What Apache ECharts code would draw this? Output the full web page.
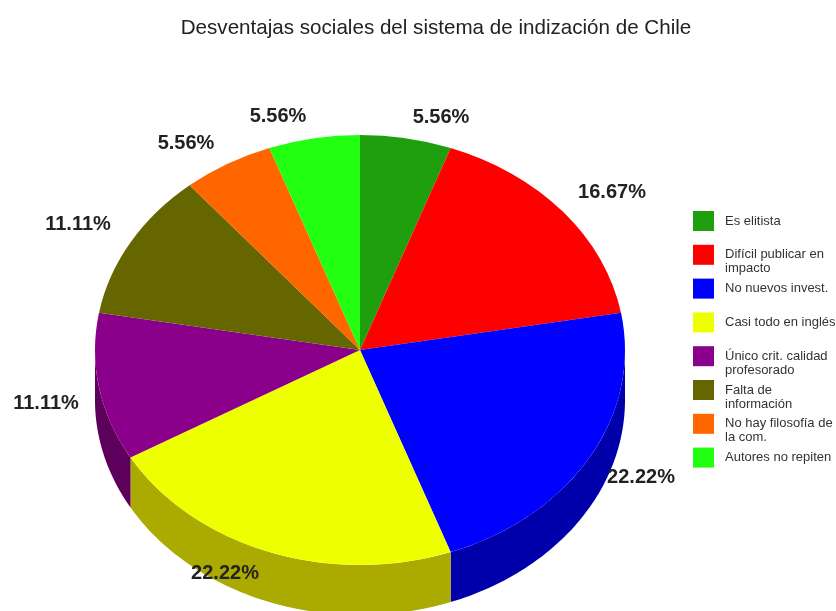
<!DOCTYPE html>
<html><head><meta charset="utf-8">
<style>html,body{margin:0;padding:0;background:#fff}#c{width:836px;height:611px}</style>
<script src="https://cdn.jsdelivr.net/npm/echarts@6/dist/echarts.min.js"></script>
</head><body><div id="c"></div>
<script>
const titleText = 'Desventajas sociales del sistema de indización de Chile';
const categories = ['Es elitista','Difícil publicar en\nimpacto','No nuevos invest.','Casi todo en inglés','Único crit. calidad\nprofesorado','Falta de\ninformación','No hay filosofía de\nla com.','Autores no repiten'];
const values = [5.56,16.67,22.22,22.22,11.11,11.11,5.56,5.56];
const labels = ['5.56%','16.67%','22.22%','22.22%','11.11%','11.11%','5.56%','5.56%'];

const topColors = ['#1f9f0d','#ff0000','#0000ff','#eeff00','#8b008b','#666600','#ff6600','#22ff11'];
const sideColors = ['#157008','#aa0000','#0000aa','#aaaa00','#5c005c','#444400','#aa4400','#16aa0b'];
const CX=360, CY=350, RX=265, RY=215, DEPTH=50;
const labelPos = [[441,117],[612,192],[641,477],[225,573],[46,403],[78,224],[186,143],[278,116]];

const total = values.reduce((a,b)=>a+b,0);
function startOf(i){let s=0;for(let k=0;k<i;k++)s+=values[k];return s/total*Math.PI*2;}
function pt(a,dy){return [CX+RX*Math.sin(a),CY-RY*Math.cos(a)+dy];}

function makeRender(i){
  return function(params,api){
    const a0=startOf(i), a1=a0+api.value(0)/total*Math.PI*2;
    const children=[];
    const w0=Math.max(a0,Math.PI/2), w1=Math.min(a1,Math.PI*1.5);
    if(w1>w0){
      const top=[],bot=[];
      for(let k=0;k<=60;k++){
        const a=w0+(w1-w0)*k/60;
        top.push(pt(a,0)); bot.unshift(pt(a,DEPTH));
      }
      children.push({type:'polygon',z2:1,shape:{points:top.concat(bot)},style:{fill:sideColors[i]}});
    }
    children.push({type:'sector',z2:2,x:CX,y:CY,scaleY:RY/RX,
      shape:{cx:0,cy:0,r:RX,r0:0,startAngle:a0-Math.PI/2,endAngle:a1-Math.PI/2,clockwise:true},
      style:{fill:topColors[i]}});
    children.push({type:'text',z2:5,x:labelPos[i][0],y:labelPos[i][1],
      style:{text:labels[i],fill:'#222',font:'bold 20px "Liberation Sans"',textAlign:'center',textVerticalAlign:'middle'}});
    return {type:'group',children};
  };
}

const chart = echarts.init(document.getElementById('c'),null,{renderer:'canvas'});
chart.setOption({
  animation:false,
  backgroundColor:'#fff',
  color:topColors,
  title:{text:titleText,left:431,top:13,textAlign:'center',textStyle:{fontFamily:'Liberation Sans',fontSize:20.6,fontWeight:'normal',color:'#222'}},
  legend:categories.map((name,i)=>{
    const two=name.includes('\n');
    return {orient:'vertical',left:693,top:211+33.8*i-(two?11:0),padding:0,itemWidth:21,itemHeight:20,icon:'rect',
      formatter:n=>two?'\n'+n:n,
      textStyle:{fontFamily:'Liberation Sans',fontSize:13,lineHeight:14,padding:[0,0,0,6],color:'#333'},itemStyle:{borderWidth:0},
      selectedMode:false,data:[name]};
  }),
  series:categories.map((name,i)=>({type:'custom',name,coordinateSystem:'none',silent:true,
    renderItem:makeRender(i),data:[[values[i]]],itemStyle:{color:topColors[i]}}))
});
</script></body></html>
